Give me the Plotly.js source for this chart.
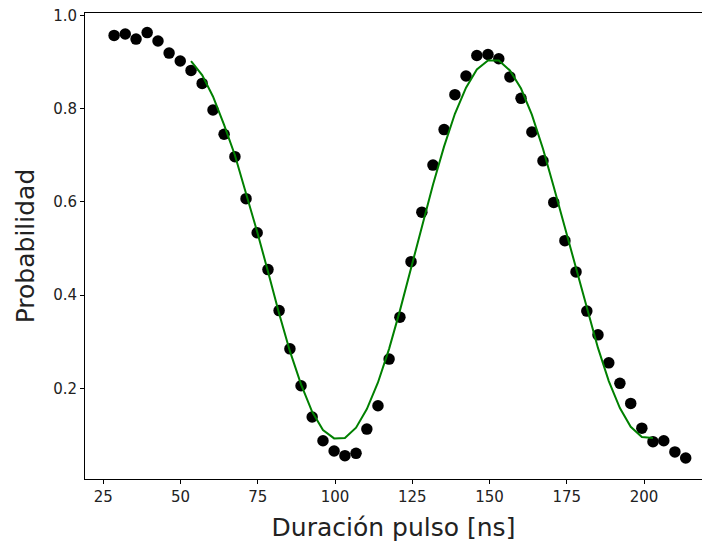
<!DOCTYPE html>
<html>
<head>
<meta charset="utf-8">
<script src="https://cdn.plot.ly/plotly-3.0.1.min.js"></script>
<style>html,body{margin:0;padding:0;background:#fff;}#chart{width:702px;height:547px;}</style>
</head>
<body>
<div id="chart"></div>
<script>
// Measured data: pulse duration [ns] vs probability
const durations = [28.5, 32.1, 35.6, 39.2, 42.7, 46.3, 49.9, 53.4, 57.0, 60.5,
  64.1, 67.6, 71.2, 74.8, 78.3, 81.9, 85.4, 89.0, 92.6, 96.1,
  99.7, 103.2, 106.8, 110.3, 113.9, 117.5, 121.0, 124.6, 128.1, 131.7,
  135.3, 138.8, 142.4, 145.9, 149.5, 153.0, 156.6, 160.2, 163.7, 167.3,
  170.8, 174.4, 178.0, 181.5, 185.1, 188.6, 192.2, 195.7, 199.3, 202.9,
  206.4, 210.0, 213.5];
const probabilities = [0.957, 0.960, 0.949, 0.963, 0.945, 0.919, 0.902, 0.882, 0.854, 0.797,
  0.745, 0.697, 0.607, 0.534, 0.455, 0.367, 0.285, 0.206, 0.139, 0.088,
  0.066, 0.056, 0.061, 0.113, 0.163, 0.263, 0.353, 0.472, 0.578, 0.679,
  0.755, 0.830, 0.870, 0.914, 0.916, 0.907, 0.868, 0.822, 0.750, 0.688,
  0.599, 0.517, 0.450, 0.366, 0.315, 0.255, 0.211, 0.168, 0.115, 0.086,
  0.088, 0.064, 0.051];

// Fitted curve (evaluated at the measured durations from 53.4 to 202.9 ns)
const fitDurations = [53.4, 57.0, 60.5, 64.1, 67.6, 71.2, 74.8, 78.3, 81.9, 85.4,
  89.0, 92.6, 96.1, 99.7, 103.2, 106.8, 110.3, 113.9, 117.5, 121.0,
  124.6, 128.1, 131.7, 135.3, 138.8, 142.4, 145.9, 149.5, 153.0, 156.6,
  160.2, 163.7, 167.3, 170.8, 174.4, 178.0, 181.5, 185.1, 188.6, 192.2,
  195.7, 199.3, 202.9];
const fitValues = [0.902, 0.872, 0.826, 0.765, 0.700, 0.620, 0.536, 0.451, 0.361, 0.280,
  0.209, 0.150, 0.111, 0.093, 0.094, 0.116, 0.156, 0.213, 0.285, 0.367,
  0.457, 0.547, 0.637, 0.719, 0.789, 0.845, 0.884, 0.903, 0.903, 0.882,
  0.843, 0.787, 0.714, 0.632, 0.545, 0.455, 0.368, 0.287, 0.216, 0.158,
  0.118, 0.096, 0.094];

const xTicks = [25, 50, 75, 100, 125, 150, 175, 200];
const yTicks = [0.2, 0.4, 0.6, 0.8, 1.0];
const yTickLabels = ['0.2', '0.4', '0.6', '0.8', '1.0'];

const traces = [
  {
    x: durations, y: probabilities, type: 'scatter', mode: 'markers',
    marker: {color: '#000000', size: 11.5},
    showlegend: false, hoverinfo: 'x+y'
  },
  {
    x: fitDurations, y: fitValues, type: 'scatter', mode: 'lines',
    line: {color: '#008000', width: 2},
    showlegend: false, hoverinfo: 'x+y'
  }
];

const layout = {
  width: 702, height: 547,
  paper_bgcolor: '#ffffff', plot_bgcolor: '#ffffff',
  margin: {l: 85, r: 0, t: 13, b: 68},
  font: {family: 'DejaVu Sans, sans-serif', color: '#000000', size: 15},
  xaxis: {
    range: [19.08, 218.77],
    tickmode: 'array', tickvals: xTicks,
    ticks: 'outside', ticklen: 4, tickwidth: 1, tickcolor: '#000',
    showline: true, linecolor: '#000', linewidth: 1, mirror: true,
    showgrid: false, zeroline: false,
    tickfont: {size: 15, color: '#222'},
    title: {text: 'Duración pulso [ns]', font: {size: 25, color: '#222'}, standoff: 13}
  },
  yaxis: {
    range: [0.006, 1.005],
    tickmode: 'array', tickvals: yTicks, ticktext: yTickLabels,
    ticks: 'outside', ticklen: 4, tickwidth: 1, tickcolor: '#000',
    showline: true, linecolor: '#000', linewidth: 1, mirror: false,
    showgrid: false, zeroline: false,
    tickfont: {size: 15, color: '#222'},
    title: {text: 'Probabilidad', font: {size: 25, color: '#222'}, standoff: 11}
  }
};

Plotly.newPlot('chart', traces, layout, {staticPlot: true, displayModeBar: false});
</script>
</body>
</html>
